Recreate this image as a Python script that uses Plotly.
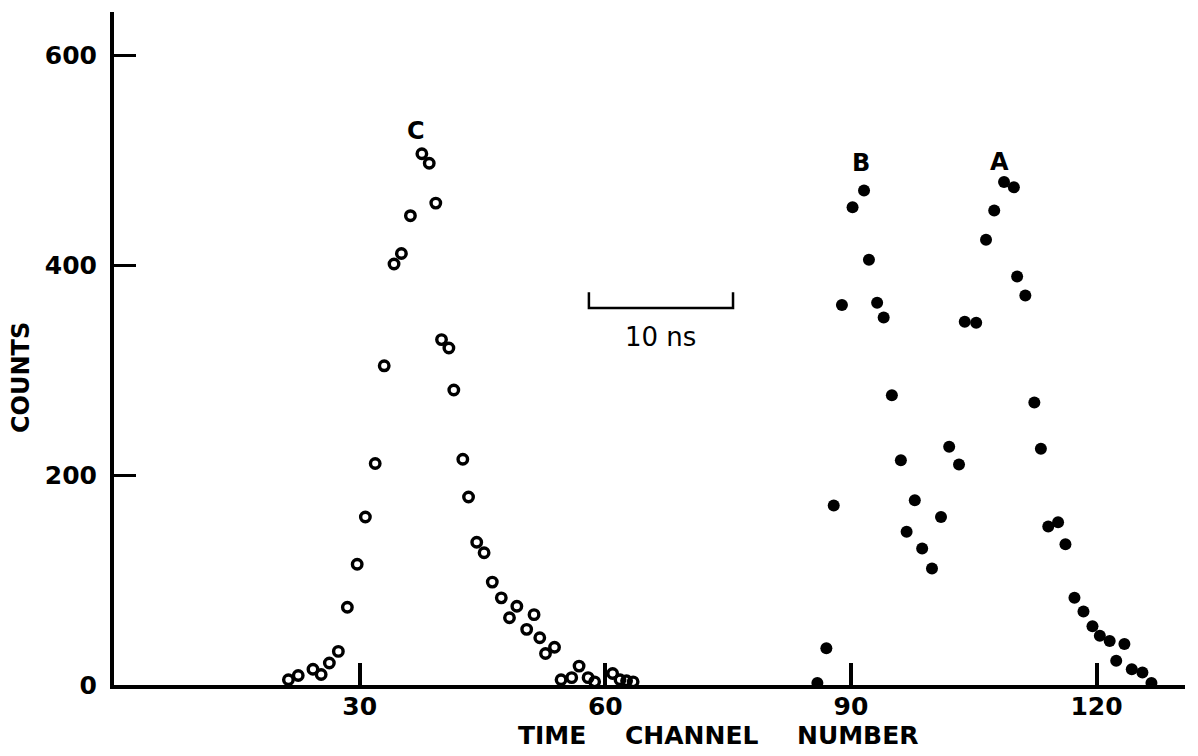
import plotly.graph_objects as go

# ---- data ----
c_channel = [21.3, 22.5, 24.3, 25.3, 26.3, 27.4, 28.5, 29.7, 30.7, 31.9,
             33.0, 34.2, 35.1, 36.2, 37.6, 38.5, 39.3, 40.0, 40.9, 41.5,
             42.6, 43.3, 44.3, 45.2, 46.2, 47.3, 48.3, 49.2, 50.4, 51.3,
             52.0, 52.7, 53.8, 54.6, 55.9, 56.8, 57.9, 58.7, 60.9, 61.8,
             62.6, 63.4]
c_counts = [5, 9, 15, 10, 21, 32, 74, 115, 160, 211,
            304, 401, 411, 447, 506, 497, 459, 329, 321, 281,
            215, 179, 136, 126, 98, 83, 64, 75, 53, 67,
            45, 30, 36, 5, 7, 18, 7, 3, 11, 5,
            4, 3]

b_channel = [85.9, 87.0, 87.9, 88.9, 90.2, 91.6, 92.2, 93.2, 94.0, 95.0,
             96.1, 96.8, 97.8, 98.7, 99.9]
b_counts = [2, 35, 171, 362, 455, 471, 405, 364, 350, 276,
            214, 146, 176, 130, 111]

a_channel = [101.0, 102.0, 103.2, 103.9, 105.3, 106.5, 107.5, 108.7, 109.9, 110.3,
             111.3, 112.4, 113.2, 114.1, 115.3, 116.2, 117.3, 118.4, 119.5, 120.4,
             121.6, 122.4, 123.4, 124.3, 125.6, 126.7]
a_counts = [160, 227, 210, 346, 345, 424, 452, 479, 474, 389,
            371, 269, 225, 151, 155, 134, 83, 70, 56, 47,
            42, 23, 39, 15, 12, 2]

x_ticks = [30, 60, 90, 120]
y_ticks = [0, 200, 400, 600]
peak_labels = ["C", "B", "A"]
peak_label_x = [36.9, 91.2, 108.1]
peak_label_y = [528, 497, 498]
scale_bar_x = [58.0, 75.6]   # 10 ns marker, in channels
scale_bar_y = [359, 374]
scale_bar_text = "10\u00a0ns"

FONT = "DejaVu Sans"
W, H = 1198, 756
L, R, T, B = 114, 13, 12, 71

def px_to_paper_x(px):
    return (px - L) / (W - L - R)

def px_to_paper_y(py):
    return (H - B - py) / (H - T - B)

fig = go.Figure()
fig.add_trace(go.Scatter(
    x=c_channel, y=c_counts, mode="markers", name="C",
    marker=dict(symbol="circle-open", size=9.5, color="black", line=dict(width=3.4, color="black")),
    cliponaxis=False,
))
for xs, ys, nm in [(b_channel, b_counts, "B"), (a_channel, a_counts, "A")]:
    fig.add_trace(go.Scatter(
        x=xs, y=ys, mode="markers", name=nm,
        marker=dict(symbol="circle", size=12, color="black", line=dict(width=0)),
        cliponaxis=False,
    ))

for t, xv, yv in zip(peak_labels, peak_label_x, peak_label_y):
    fig.add_annotation(x=xv, y=yv, text=f"<b>{t}</b>", showarrow=False,
                       xanchor="center", yanchor="middle",
                       font=dict(family=FONT, size=24, color="black"))

# scale bar
x0, x1 = scale_bar_x
ylo, yhi = scale_bar_y
fig.add_shape(type="path",
              path=f"M {x0},{yhi} L {x0},{ylo} L {x1},{ylo} L {x1},{yhi}",
              xref="x", yref="y", line=dict(color="black", width=2.5))
fig.add_annotation(x=(x0 + x1) / 2, y=ylo - 11, yanchor="top", xanchor="center",
                   text=scale_bar_text, showarrow=False,
                   font=dict(family=FONT, size=26, color="black"))

# axis titles as annotations
for word, cx in [("TIME", 552), ("CHANNEL", 692), ("NUMBER", 857)]:
    fig.add_annotation(x=px_to_paper_x(cx), y=px_to_paper_y(735), xref="paper", yref="paper",
                       xanchor="center", yanchor="middle",
                       text=f"<b>{word}</b>", showarrow=False,
                       font=dict(family=FONT, size=25, color="black"))
fig.add_annotation(x=px_to_paper_x(21), y=px_to_paper_y(378), xref="paper", yref="paper",
                   xanchor="center", yanchor="middle",
                   text="<b>COUNTS</b>", textangle=-90, showarrow=False,
                   font=dict(family=FONT, size=24, color="black"))

fig.update_xaxes(range=[0, 130.8], tickvals=x_ticks, ticktext=[f"<b>{v}</b>" for v in x_ticks],
                 ticks="inside", ticklen=22, tickwidth=4, tickcolor="black",
                 showline=True, linewidth=4, linecolor="black",
                 showgrid=False, zeroline=False,
                 tickfont=dict(family=FONT, size=25, color="black"),
                 ticklabelstandoff=-4)
fig.update_yaxes(range=[0, 641], tickvals=y_ticks, ticktext=[f"<b>{v}</b>" for v in y_ticks],
                 ticks="inside", ticklen=22, tickwidth=3, tickcolor="black",
                 showline=True, linewidth=4, linecolor="black",
                 showgrid=False, zeroline=False,
                 tickfont=dict(family=FONT, size=25, color="black"),
                 ticklabelstandoff=8)

fig.update_layout(width=W, height=H, margin=dict(l=L, r=R, t=T, b=B),
                  paper_bgcolor="white", plot_bgcolor="white", showlegend=False,
                  font=dict(family=FONT, color="black"))

fig.write_html("out.html")
